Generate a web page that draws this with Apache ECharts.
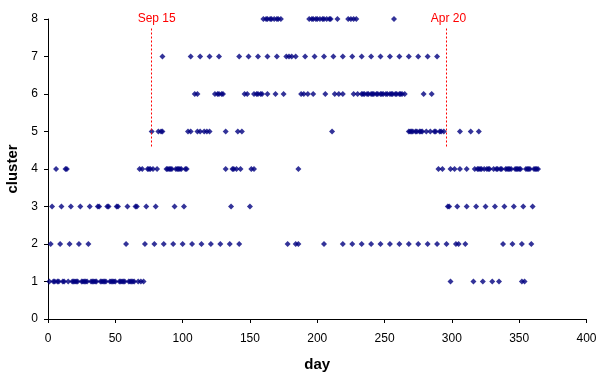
<!DOCTYPE html>
<html>
<head>
<meta charset="utf-8">
<script src="https://cdn.jsdelivr.net/npm/echarts@6/dist/echarts.min.js"></script>
<style>
  html, body { margin: 0; padding: 0; background: #fff; }
  #chart { width: 598px; height: 374px; }
</style>
</head>
<body>
<div id="chart"></div>
<script>
// Day numbers on which each cluster occurs
const cluster1Days = [1,4,5,7,8,11,12,15,18,19,20,21,22,25,26,27,28,29,32,33,34,35,36,39,40,41,42,43,46,47,48,49,50,53,54,55,56,57,60,61,62,63,64,67,69,71,
  299,316,323,330,335,352,354];
const cluster2Days = [2,9,16,23,30,58,72,79,86,93,100,107,114,121,128,135,142,178,184,186,205,219,226,233,240,247,254,261,268,275,282,289,
  296,303,305,310,338,345,352,359];
const cluster3Days = [3,10,17,24,31,37,38,44,45,51,52,59,65,66,73,80,94,101,136,150,
  297,298,304,311,318,325,332,339,346,353,360];
const cluster4Days = [6,13,14,68,70,74,75,76,78,81,88,89,90,91,92,95,96,97,98,99,102,103,132,137,138,140,143,151,153,186,
  290,293,299,302,306,311,317,319,320,321,322,324,326,327,328,331,333,334,336,337,340,341,342,343,344,347,348,349,350,351,355,356,357,358,361,362,363,364];
const cluster5Days = [77,82,84,85,104,106,111,113,116,118,120,132,141,144,211,
  268,269,270,271,273,274,276,277,278,281,284,287,288,291,292,294,306,314,320];
const cluster6Days = [109,111,124,126,127,129,130,146,148,153,155,156,158,159,163,169,175,188,190,193,197,206,213,216,219,
  227,230,233,234,235,237,238,240,241,242,244,245,247,248,249,251,252,254,255,256,258,259,261,262,263,265,279,285];
const cluster7Days = [85,106,113,120,127,142,149,156,163,170,177,179,181,184,191,198,205,212,219,226,233,240,247,254,261,268,275,282,289];
const cluster8Days = [160,162,163,165,166,168,170,171,173,194,196,197,199,200,202,204,205,207,209,210,215,223,225,227,229,257];

const clusterDays = [cluster1Days, cluster2Days, cluster3Days, cluster4Days,
                     cluster5Days, cluster6Days, cluster7Days, cluster8Days];

// Season markers: day, label, and the vertical extent of the dashed line
const markerDays = [77, 296];
const markerLabels = ['Sep 15', 'Apr 20'];
const markerLineBottom = 4.6;
const markerLineTop = 7.75;

const xTicks = { min: 0, max: 400, interval: 50 };
const yTicks = { min: 0, max: 8, interval: 1 };

const font = '"Liberation Sans", Arial, sans-serif';
const navy = '#000080';

const series = clusterDays.map((days, i) => ({
  name: 'cluster ' + (i + 1),
  type: 'scatter',
  symbol: 'diamond',
  symbolSize: 6,
  itemStyle: { color: navy },
  data: days.map(d => [d, i + 1]),
  z: 3
}));

// Dashed red season markers with their labels above the top end
series.push({
  type: 'scatter',
  data: [],
  silent: true,
  markLine: {
    silent: true,
    symbol: 'none',
    animation: false,
    lineStyle: { color: '#ff0000', width: 1, type: [2, 2] },
    data: markerDays.map((d, i) => [
      { coord: [d, markerLineBottom] },
      {
        coord: [d, markerLineTop],
        label: {
          show: true,
          position: 'end',
          formatter: markerLabels[i],
          color: '#ff0000',
          fontFamily: font,
          fontSize: 12,
          distance: 4,
          offset: [i === 0 ? 5 : 2, 0]
        }
      }
    ])
  }
});

const chart = echarts.init(document.getElementById('chart'), null, { renderer: 'canvas' });
chart.setOption({
  animation: false,
  backgroundColor: '#fff',
  grid: { left: 48, right: 11.5, top: 19, bottom: 55, containLabel: false, outerBoundsMode: 'none' },
  xAxis: {
    type: 'value',
    min: xTicks.min, max: xTicks.max, interval: xTicks.interval,
    name: 'day',
    nameLocation: 'middle',
    nameGap: 38,
    nameTextStyle: { fontFamily: font, fontSize: 15, fontWeight: 'bold', color: '#000' },
    axisLine: { show: true, lineStyle: { color: '#000', width: 1 } },
    axisTick: { show: true, length: 4, lineStyle: { color: '#000' } },
    axisLabel: { fontFamily: font, fontSize: 12, color: '#000', margin: 14 },
    splitLine: { show: false }
  },
  yAxis: {
    type: 'value',
    min: yTicks.min, max: yTicks.max, interval: yTicks.interval,
    name: 'cluster',
    nameLocation: 'middle',
    nameRotate: 90,
    nameGap: 24,
    nameTextStyle: { fontFamily: font, fontSize: 15, fontWeight: 'bold', color: '#000' },
    axisLine: { show: true, lineStyle: { color: '#000', width: 1 } },
    axisTick: { show: true, length: 4, lineStyle: { color: '#000' } },
    axisLabel: { fontFamily: font, fontSize: 12, color: '#000', margin: 10 },
    splitLine: { show: false }
  },
  series: series
});
</script>
</body>
</html>
